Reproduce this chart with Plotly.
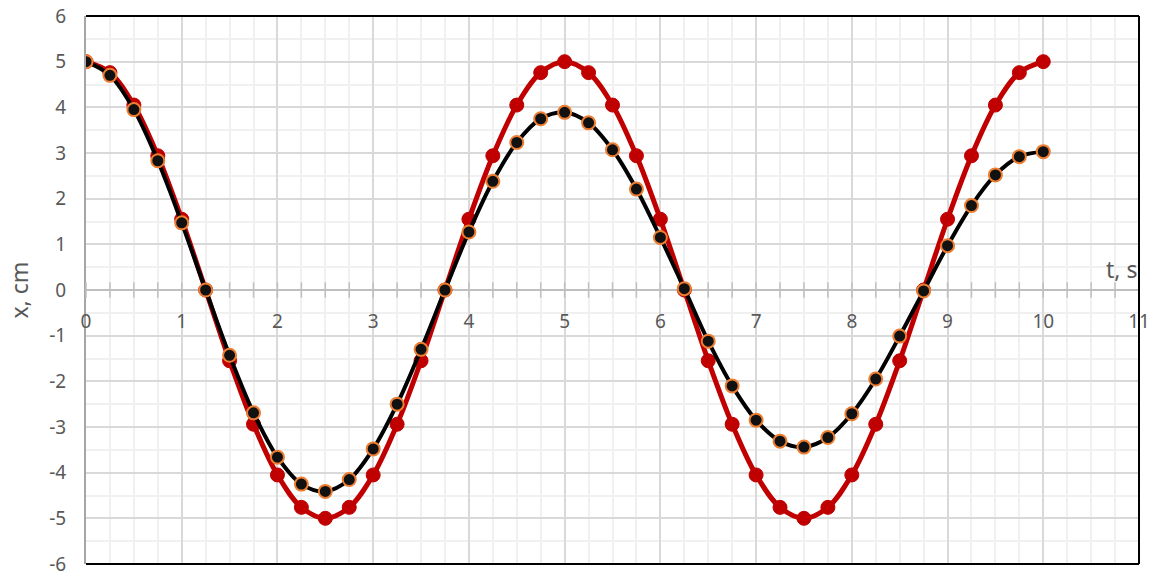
import plotly.graph_objects as go

t = [0, 0.25, 0.5, 0.75, 1, 1.25, 1.5, 1.75, 2, 2.25, 2.5, 2.75, 3, 3.25, 3.5, 3.75, 4, 4.25, 4.5, 4.75,
     5, 5.25, 5.5, 5.75, 6, 6.25, 6.5, 6.75, 7, 7.25, 7.5, 7.75, 8, 8.25, 8.5, 8.75, 9, 9.25, 9.5, 9.75, 10]

x_free = [5.0, 4.76, 4.05, 2.94, 1.55, 0.0, -1.55, -2.94, -4.05, -4.76, -5.0, -4.76, -4.05, -2.94, -1.55, 0.0,
          1.55, 2.94, 4.05, 4.76, 5.0, 4.76, 4.05, 2.94, 1.55, 0.0, -1.55, -2.94, -4.05, -4.76, -5.0, -4.76,
          -4.05, -2.94, -1.55, 0.0, 1.55, 2.94, 4.05, 4.76, 5.0]

x_damped = [5.0, 4.70, 3.95, 2.83, 1.47, 0.0, -1.43, -2.69, -3.66, -4.25, -4.41, -4.15, -3.48, -2.50, -1.30, 0.0,
            1.27, 2.38, 3.23, 3.75, 3.89, 3.66, 3.07, 2.21, 1.15, 0.03, -1.12, -2.10, -2.85, -3.31, -3.44, -3.23,
            -2.71, -1.95, -1.01, -0.02, 0.97, 1.85, 2.52, 2.92, 3.03]

x_ticks = list(range(0, 12))
y_ticks = list(range(-6, 7))
x_minor_ticks = [i * 0.25 for i in range(0, 45)]

FONT = "Noto Sans"
TXT = "#595959"

fig = go.Figure()
# crossing tick marks on the t axis (at y = 0)
fig.add_trace(go.Scatter(
    x=x_minor_ticks, y=[0] * len(x_minor_ticks), mode="markers", cliponaxis=False,
    marker=dict(symbol="line-ns-open", size=11, color="#bfbfbf", line=dict(color="#bfbfbf", width=1.5)),
    showlegend=False, hoverinfo="skip"))
fig.add_trace(go.Scatter(
    x=t, y=x_free, mode="lines+markers", line=dict(color="#c00000", width=5, shape="spline"),
    marker=dict(color="#c00000", size=14, line=dict(color="#c00000", width=1)), showlegend=False))
fig.add_trace(go.Scatter(
    x=t, y=x_damped, mode="lines+markers", line=dict(color="#000000", width=4, shape="spline"),
    marker=dict(color="#111111", size=13, line=dict(color="#ed7d31", width=2)), showlegend=False))

fig.update_layout(
    width=1156, height=574,
    margin=dict(l=86, r=17, t=16, b=10, autoexpand=False),
    plot_bgcolor="white", paper_bgcolor="white",
    font=dict(family=FONT, size=19, color=TXT),
    xaxis=dict(
        range=[0, 11], tickvals=x_ticks, ticktext=[str(v) for v in x_ticks],
        showgrid=True, gridcolor="#d9d9d9", gridwidth=1.5,
        minor=dict(dtick=0.25, tick0=0, showgrid=True, gridcolor="#f0f0f0", gridwidth=1.5),
        ticks="", showline=True, linecolor="#bfbfbf", linewidth=2, layer="below traces",
        anchor="free", position=0.5, zeroline=False, automargin=False,
        ticklabelstandoff=14, ticklabeloverflow="allow",
        tickfont=dict(family=FONT, size=19, color=TXT),
    ),
    yaxis=dict(
        range=[-6, 6], tickvals=y_ticks, ticktext=[str(v) for v in y_ticks],
        showgrid=True, gridcolor="#d9d9d9", gridwidth=1.5,
        minor=dict(dtick=0.5, tick0=0, showgrid=True, gridcolor="#f0f0f0", gridwidth=1.5),
        showline=True, linecolor="#a6a6a6", linewidth=2, zeroline=False, layer="below traces",
        ticks="", ticklabelstandoff=14, automargin=False, ticklabeloverflow="allow",
        tickfont=dict(family=FONT, size=19, color=TXT),
    ),
    shapes=[
        dict(type="line", xref="paper", yref="paper", x0=0, x1=1, y0=1, y1=1, line=dict(color="black", width=2)),
        dict(type="line", xref="paper", yref="paper", x0=1, x1=1, y0=0, y1=1, line=dict(color="black", width=2)),
        dict(type="line", xref="paper", yref="paper", x0=0, x1=1, y0=0, y1=0, line=dict(color="black", width=2)),
    ],
    annotations=[
        dict(text="x, cm", xref="paper", yref="paper", x=-0.064, y=0.5, showarrow=False, textangle=-90,
             font=dict(family=FONT, size=23, color=TXT), xanchor="center", yanchor="middle"),
        dict(text="t, s", xref="x", yref="y", x=11, y=0.45, showarrow=False,
             font=dict(family=FONT, size=23, color=TXT), xanchor="right", yanchor="middle"),
    ],
)

fig.write_html("out.html")
